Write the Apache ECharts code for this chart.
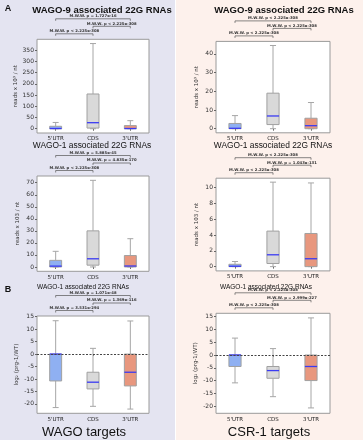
<!DOCTYPE html>
<html>
<head>
<meta charset="utf-8">
<script src="https://cdn.jsdelivr.net/npm/echarts@6/dist/echarts.min.js"></script>
<style>
html, body { margin: 0; padding: 0; background: #fff; }
#chart { width: 363px; height: 440px; }
</style>
</head>
<body>
<div id="chart"></div>
<script>
var categories = ["5'UTR", "CDS", "3'UTR"];

// every box: [low whisker, q1, median, q3, high whisker]
var wago9WagoTargets = [[0, 0, 1, 11, 28], [0, 3, 27, 155, 380], [0, 0, 1, 14, 36]];
var wago9CsrTargets = [[0, 0, 0.2, 2.8, 7], [0, 2.2, 6.8, 19, 44.5], [0, 0, 1.6, 5.6, 14]];
var wago1WagoTargets = [[0, 0, 0.7, 5.5, 13], [0, 1.5, 6.8, 30, 72], [0, 0, 0.8, 9.5, 23.5]];
var wago1CsrTargets = [[0, 0, 0.05, 0.3, 0.65], [0, 0.4, 1.5, 4.5, 10.7], [0, 0, 1.0, 4.2, 10.6]];
var prg1WagoTargets = [[-21.5, -10.8, 0, 0, 13.4], [-21, -14, -11.3, -7.3, 2.3], [-22.1, -12.8, -7.3, 0, 13.3]];
var prg1CsrTargets = [[-10.9, -4.5, 0, 0, 6.6], [-16.3, -9.1, -6.1, -4.5, 2.5], [-20.7, -10, -4.5, 0, 14.5]];

var ticksTopLeft = [0, 50, 100, 150, 200, 250, 300, 350];
var ticksTopRight = [0, 10, 20, 30, 40];
var ticksMidLeft = [0, 10, 20, 30, 40, 50, 60, 70];
var ticksMidRight = [0, 2, 4, 6, 8, 10];
var ticksLog = [-20, -15, -10, -5, 0, 5, 10, 15];

// bracket texts: 5'UTR-CDS, CDS-3'UTR, 5'UTR-3'UTR
var pTopLeft = ['M.W.W. p < 2.225e-308', 'M.W.W. p < 2.225e-308', 'M.W.W. p = 1.727e-16'];
var pTopRight = ['M.W.W. p < 2.225e-308', 'M.W.W. p < 2.225e-308', 'M.W.W. p < 2.225e-308'];
var pMidLeft = ['M.W.W. p < 2.225e-308', 'M.W.W. p = 4.835e-170', 'M.W.W. p = 5.885e-45'];
var pMidRight = ['M.W.W. p < 2.225e-308', 'M.W.W. p = 1.043e-131', 'M.W.W. p < 2.225e-308'];
var pBotLeft = ['M.W.W. p = 3.531e-294', 'M.W.W. p = 1.369e-116', 'M.W.W. p = 1.071e-48'];
var pBotRight = ['M.W.W. p < 2.225e-308', 'M.W.W. p = 2.999e-227', 'M.W.W. p < 2.225e-308'];

var boxFill = ['#8fb0f2', '#d9d9d9', '#e8977e'];
var bracketGap = [5.5, 13, 20.5];
var tickFont = 'DejaVu Sans';

var chart = echarts.init(document.getElementById('chart'));

function renderBox(params, api) {
	var i = api.value(0);
	var lo = api.coord([i, api.value(1)]);
	var q1 = api.coord([i, api.value(2)]);
	var med = api.coord([i, api.value(3)]);
	var q3 = api.coord([i, api.value(4)]);
	var hi = api.coord([i, api.value(5)]);
	var cx = lo[0];
	var w = api.size([1, 0])[0] * 0.32;
	var grey = {stroke: '#a6a6a6', lineWidth: 1};
	return {
		type: 'group',
		children: [
			{type: 'line', shape: {x1: cx, y1: q3[1], x2: cx, y2: hi[1]}, style: grey},
			{type: 'line', shape: {x1: cx, y1: q1[1], x2: cx, y2: lo[1]}, style: grey},
			{type: 'line', shape: {x1: cx - w / 4, y1: hi[1], x2: cx + w / 4, y2: hi[1]}, style: grey},
			{type: 'line', shape: {x1: cx - w / 4, y1: lo[1], x2: cx + w / 4, y2: lo[1]}, style: grey},
			{type: 'rect', shape: {x: cx - w / 2, y: q3[1], width: w, height: Math.max(q1[1] - q3[1], 0.5)},
				style: {fill: boxFill[params.dataIndex], stroke: '#a0a0a0', lineWidth: 1}},
			{type: 'line', shape: {x1: cx - w / 2, y1: med[1], x2: cx + w / 2, y2: med[1]},
				style: {stroke: '#3b3bf2', lineWidth: 1.3}}
		]
	};
}

function bracketRenderer(texts) {
	return function(params, api) {
		var a = api.coord([api.value(0), 0])[0];
		var b = api.coord([api.value(1), 0])[0];
		var y = params.coordSys.y - bracketGap[api.value(2)];
		return {
			type: 'group',
			children: [
				{type: 'polyline', shape: {points: [[a, y + 2], [a, y], [b, y], [b, y + 2]]},
					style: {stroke: '#555', lineWidth: 0.7, fill: 'none'}},
				{type: 'text', style: {x: (a + b) / 2, y: y - 0.6, text: texts[params.dataIndex],
					align: 'center', verticalAlign: 'bottom', fontSize: 3.8, fontWeight: 'bold',
					fontFamily: tickFont, fill: '#333'}}
			]
		};
	};
}

var panels = [
	{box: wago9WagoTargets, p: pTopLeft, ticks: ticksTopLeft, min: -19, max: 399, name: 'reads x 10³ / nt', left: 37, top: 39.3, width: 112, height: 93.7},
	{box: wago9CsrTargets, p: pTopRight, ticks: ticksTopRight, min: -2.2, max: 46.7, name: 'reads x 10³ / nt', left: 216, top: 41.4, width: 114, height: 91.4},
	{box: wago1WagoTargets, p: pMidLeft, ticks: ticksMidLeft, min: -3.6, max: 75.6, name: 'reads x 103 / nt', left: 37, top: 176, width: 112, height: 95.3},
	{box: wago1CsrTargets, p: pMidRight, ticks: ticksMidRight, min: -0.54, max: 11.2, name: 'reads x 103 / nt', left: 216, top: 178.2, width: 114, height: 92.7},
	{box: prg1WagoTargets, p: pBotLeft, ticks: ticksLog, min: -23.8, max: 15.3, name: 'log₂ (prg-1/WT)', left: 37, top: 316, width: 112, height: 97.3, zero: true},
	{box: prg1CsrTargets, p: pBotRight, ticks: ticksLog, min: -22.8, max: 16.3, name: 'log₂ (prg-1/WT)', left: 216, top: 313.3, width: 114, height: 100, zero: true}
];

var grids = [], xAxes = [], yAxes = [], series = [];
panels.forEach(function(pn, k) {
	grids.push({left: pn.left, top: pn.top, width: pn.width, height: pn.height, show: true,
		backgroundColor: '#fff', borderColor: '#9a9a9a', borderWidth: 1});
	xAxes.push({gridIndex: k, type: 'category', data: categories,
		axisLine: {show: false},
		axisTick: {show: true, alignWithLabel: true, length: 2, lineStyle: {color: '#666'}},
		axisLabel: {fontSize: 5.5, color: '#222', margin: 3, fontFamily: tickFont}});
	yAxes.push({gridIndex: k, type: 'value', min: pn.min, max: pn.max,
		axisLine: {show: false}, splitLine: {show: false},
		axisTick: {show: true, length: 2, lineStyle: {color: '#666'}, customValues: pn.ticks},
		axisLabel: {fontSize: 6, color: '#333', margin: 3, fontFamily: tickFont, customValues: pn.ticks},
		name: pn.name, nameLocation: 'middle', nameGap: pn.zero ? 17 : 16,
		nameTextStyle: {fontSize: 5.5, color: '#333', fontFamily: tickFont}});
	var boxSeries = {
		type: 'custom', xAxisIndex: k, yAxisIndex: k, clip: false,
		renderItem: renderBox,
		encode: {x: 0, y: [1, 2, 3, 4, 5]},
		data: pn.box.map(function(b, i) { return [i].concat(b); }),
		z: 3
	};
	if (pn.zero) {
		boxSeries.markLine = {silent: true, symbol: 'none', label: {show: false},
			lineStyle: {type: [2, 1.5], color: '#444', width: 1}, data: [{yAxis: 0}], z: 5};
	}
	series.push(boxSeries);
	series.push({
		type: 'custom', xAxisIndex: k, yAxisIndex: k, clip: false,
		renderItem: bracketRenderer(pn.p),
		data: [[0, 1, 0], [1, 2, 1], [0, 2, 2]],
		z: 4
	});
});

function label(x, y, text, size, weight, family) {
	return {type: 'text', x: x, y: y, style: {text: text, fontSize: size, fontWeight: weight || 'normal',
		fontFamily: family || 'Liberation Sans', fill: '#111', align: 'center', verticalAlign: 'middle'}};
}

chart.setOption({
	animation: false,
	graphic: [
		{type: 'rect', shape: {x: 0, y: 0, width: 175, height: 440}, style: {fill: '#e4e4f1'}, z: -10},
		{type: 'rect', shape: {x: 176, y: 0, width: 187, height: 440}, style: {fill: '#fdf1ec'}, z: -10},
		label(8, 8.5, 'A', 9, 'bold'),
		label(8, 290, 'B', 9, 'bold'),
		label(102, 10, 'WAGO-9 associated 22G RNAs', 9.5, 'bold'),
		label(284, 10, 'WAGO-9 associated 22G RNAs', 9.5, 'bold'),
		label(92, 145.5, 'WAGO-1 associated 22G RNAs', 8.4),
		label(273, 145.5, 'WAGO-1 associated 22G RNAs', 8.4),
		label(83, 287, 'WAGO-1 associated 22G RNAs', 6.5),
		label(266, 287, 'WAGO-1 associated 22G RNAs', 6.5),
		label(84, 432.5, 'WAGO targets', 13),
		label(269, 432.5, 'CSR-1 targets', 13)
	],
	grid: grids,
	xAxis: xAxes,
	yAxis: yAxes,
	series: series
});
</script>
</body>
</html>
